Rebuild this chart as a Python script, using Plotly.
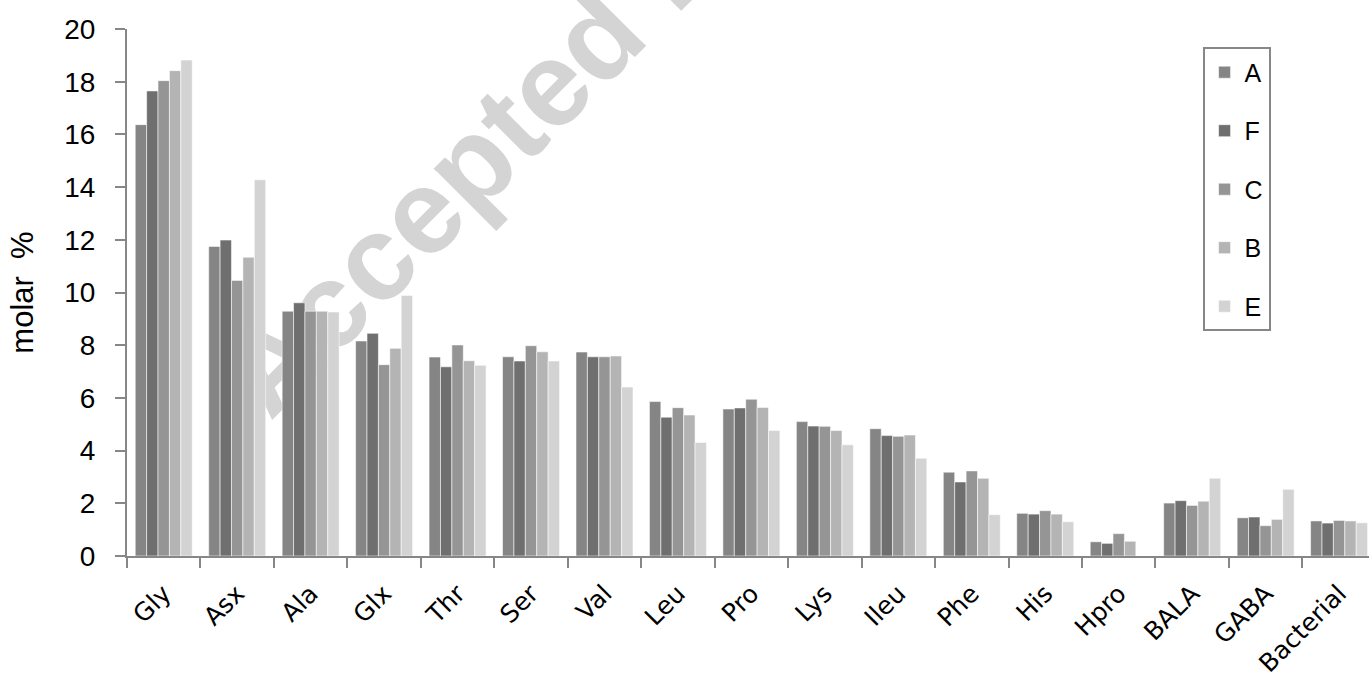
import plotly.graph_objects as go

# Amino acid composition (molar %) for five samples
categories = ["Gly", "Asx", "Ala", "Glx", "Thr", "Ser", "Val", "Leu", "Pro",
              "Lys", "Ileu", "Phe", "His", "Hpro", "BALA", "GABA", "Bacterial"]

series_names = ["A", "F", "C", "B", "E"]

values_A = [16.37, 11.75, 9.29, 8.16, 7.55, 7.56, 7.74, 5.86, 5.58, 5.10, 4.83, 3.18, 1.62, 0.54, 2.01, 1.45, 1.33]
values_F = [17.65, 11.99, 9.61, 8.45, 7.18, 7.40, 7.56, 5.27, 5.62, 4.93, 4.57, 2.81, 1.59, 0.48, 2.10, 1.48, 1.25]
values_C = [18.04, 10.46, 9.29, 7.26, 8.01, 7.98, 7.56, 5.63, 5.95, 4.92, 4.54, 3.23, 1.72, 0.85, 1.92, 1.15, 1.35]
values_B = [18.42, 11.34, 9.29, 7.88, 7.41, 7.75, 7.59, 5.35, 5.64, 4.76, 4.59, 2.95, 1.59, 0.56, 2.08, 1.39, 1.33]
values_E = [18.82, 14.28, 9.26, 9.89, 7.24, 7.40, 6.41, 4.31, 4.76, 4.22, 3.71, 1.57, 1.30, None, 2.95, 2.53, 1.26]

series_values = [values_A, values_F, values_C, values_B, values_E]
series_colors = ["#858585", "#6f6f6f", "#959595", "#b4b4b4", "#d3d3d3"]

AXIS_GREY = "#878787"
TEXT_FONT = "Liberation Sans, Arial, sans-serif"

fig = go.Figure()
for name, vals, col in zip(series_names, series_values, series_colors):
    fig.add_trace(go.Bar(
        x=categories, y=vals, name=name,
        marker=dict(color=col, line=dict(color="rgba(255,255,255,0.55)", width=1)),
        legendgroup=name,
    ))

# Diagonal watermark, drawn beneath the bars
fig.add_shape(
    type="rect", xref="paper", yref="paper",
    x0=0.4294, x1=0.4314, y0=1.1385, y1=1.1405,
    line=dict(width=0), fillcolor="rgba(0,0,0,0)",
    layer="below",
    label=dict(text="Accepted Manuscript", textangle=-45,
               textposition="middle center",
               font=dict(size=120, color="#d4d4d4", family=TEXT_FONT, weight="bold")),
)

fig.update_layout(
    width=1369, height=677,
    margin=dict(l=127, r=0, t=29, b=121),
    paper_bgcolor="white", plot_bgcolor="white",
    barmode="group", bargap=0.224, bargroupgap=0,
    font=dict(family=TEXT_FONT, color="black"),
    showlegend=True,
    legend=dict(
        x=0.866, y=0.965, xanchor="left", yanchor="top",
        bgcolor="white", bordercolor=AXIS_GREY, borderwidth=2,
        font=dict(size=25, family=TEXT_FONT, color="black"),
        tracegroupgap=23, traceorder="grouped",
    ),
    xaxis=dict(
        type="category", range=[-0.5, 16.407], automargin=False,
        showline=True, linecolor=AXIS_GREY, linewidth=2,
        ticks="outside", ticklen=10, tickwidth=2, tickcolor=AXIS_GREY,
        tickson="boundaries", tickangle=-45,
        ticklabelstandoff=11,
        tickfont=dict(size=25, family="DejaVu Sans, Verdana, sans-serif", color="black"),
        showgrid=False, zeroline=False,
    ),
    yaxis=dict(
        range=[0, 20], dtick=2, automargin=False,
        showline=True, linecolor=AXIS_GREY, linewidth=2,
        ticks="outside", ticklen=10, tickwidth=2, tickcolor=AXIS_GREY,
        ticklabelstandoff=14,
        tickfont=dict(size=28, family=TEXT_FONT, color="black"),
        showgrid=False, zeroline=False,
        title=dict(text="molar  %", font=dict(size=31, family=TEXT_FONT, color="black"), standoff=21),
    ),
)

fig.write_html("out.html")
